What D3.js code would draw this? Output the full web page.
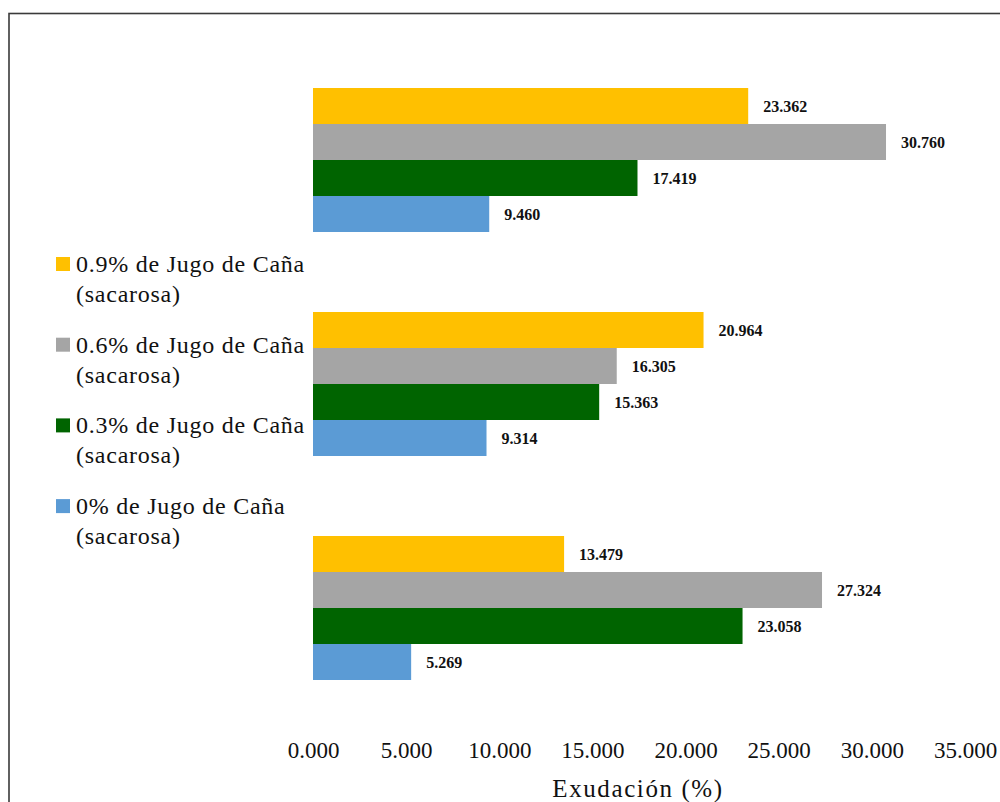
<!DOCTYPE html>
<html>
<head>
<meta charset="utf-8">
<script src="https://cdn.jsdelivr.net/npm/d3@7"></script>
<style>
  html, body { margin: 0; padding: 0; background: #fff; }
  svg { display: block; }
</style>
</head>
<body>
<svg id="chart" width="1000" height="802"></svg>
<script>
// Categories (top to bottom); the original shows no category labels
const categories = ["Grupo 1", "Grupo 2", "Grupo 3"];
// Series names (legend order, also bar order top to bottom inside each group)
const seriesNames = [
  "0.9% de Jugo de Caña (sacarosa)",
  "0.6% de Jugo de Caña (sacarosa)",
  "0.3% de Jugo de Caña (sacarosa)",
  "0% de Jugo de Caña (sacarosa)"
];
const seriesColors = ["#FFC000", "#A5A5A5", "#006400", "#5B9BD5"];
// Values per series, in the order of categories
const s09 = [23.362, 20.964, 13.479];
const s06 = [30.760, 16.305, 27.324];
const s03 = [17.419, 15.363, 23.058];
const s00 = [9.460, 9.314, 5.269];
const tickValues = [0, 5, 10, 15, 20, 25, 30, 35];
const xTitle = "Exudación (%)";

const seriesValues = [s09, s06, s03, s00];
const svg = d3.select("#chart");
const serif = "'Liberation Serif', 'Times New Roman', serif";

// Outer border
svg.append("rect")
  .attr("x", 9).attr("y", 13.5)
  .attr("width", 1010).attr("height", 820)
  .attr("fill", "none").attr("stroke", "#3a3a3a").attr("stroke-width", 1.6);

const x = d3.scaleLinear().domain([0, 35]).range([313, 965]);
const y0 = d3.scaleBand().domain(categories).range([48, 720])
  .paddingInner(80 / 224).paddingOuter(40 / 224);
const y1 = d3.scaleBand().domain(d3.range(seriesNames.length)).range([0, y0.bandwidth()]);

const groups = svg.append("g").selectAll("g")
  .data(categories)
  .join("g")
  .attr("transform", d => `translate(0,${y0(d)})`);

groups.each(function(cat, ci) {
  const g = d3.select(this);
  const rows = seriesValues.map((vals, si) => ({ si, v: vals[ci] }));
  g.selectAll("rect")
    .data(rows)
    .join("rect")
    .attr("x", x(0))
    .attr("y", d => y1(d.si))
    .attr("width", d => x(d.v) - x(0))
    .attr("height", y1.bandwidth())
    .attr("fill", d => seriesColors[d.si]);
  g.selectAll("text")
    .data(rows)
    .join("text")
    .attr("x", d => x(d.v) + 15)
    .attr("y", d => y1(d.si) + y1.bandwidth() / 2)
    .attr("dy", "0.35em")
    .attr("font-family", serif)
    .attr("font-weight", "bold")
    .attr("font-size", 16)
    .attr("fill", "#111")
    .text(d => d3.format(".3f")(d.v));
});

// X axis (labels only)
const xAxis = d3.axisBottom(x).tickValues(tickValues).tickSize(0).tickPadding(0)
  .tickFormat(d3.format(".3f"));
const ax = svg.append("g").attr("transform", "translate(0,742)").call(xAxis);
ax.select(".domain").remove();
ax.selectAll("text")
  .attr("font-family", serif).attr("font-size", 23).attr("fill", "#111");

svg.append("text")
  .attr("x", 638).attr("y", 797)
  .attr("text-anchor", "middle")
  .attr("font-family", serif).attr("font-size", 25)
  .attr("letter-spacing", 1.6).attr("fill", "#111")
  .text(xTitle);

// Legend
const legend = svg.append("g");
const legTop = 264, legStep = 80.7;
seriesNames.forEach((name, i) => {
  const cy = legTop + i * legStep;
  legend.append("rect")
    .attr("x", 56).attr("y", cy - 7).attr("width", 14).attr("height", 14)
    .attr("fill", seriesColors[i]);
  const parts = name.split(" (");
  const t = legend.append("text")
    .attr("font-family", serif).attr("font-size", 24)
    .attr("letter-spacing", 0.75).attr("fill", "#111");
  t.append("tspan").attr("x", 76).attr("y", cy + 8).text(parts[0]);
  t.append("tspan").attr("x", 76).attr("y", cy + 38).text("(" + parts[1]);
});
</script>
</body>
</html>
